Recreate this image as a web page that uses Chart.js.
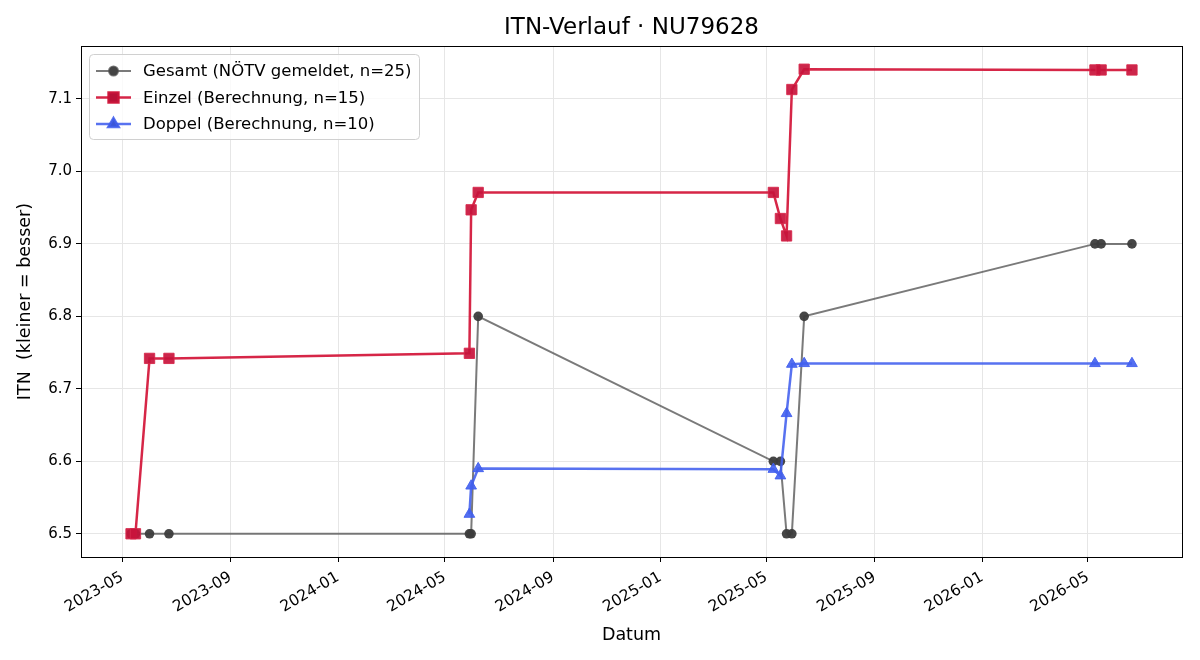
<!DOCTYPE html>
<html>
<head>
<meta charset="utf-8">
<script src="https://cdn.jsdelivr.net/npm/chart.js@4"></script>
<style>
  html, body { margin: 0; padding: 0; background: #fff; }
  #wrap { width: 1200px; height: 660px; }
</style>
</head>
<body>
<div id="wrap"><canvas id="itnChart" width="1200" height="660"></canvas></div>
<script>
// data
const gesamtDates = ['2023-05-11', '2023-05-16', '2023-06-01', '2023-06-23', '2024-05-29', '2024-05-31', '2024-06-08',
    '2025-05-09', '2025-05-17', '2025-05-24', '2025-05-30', '2025-06-13', '2026-05-09', '2026-05-16', '2026-06-20'];
const gesamtValues = [6.5, 6.5, 6.5, 6.5, 6.5, 6.5, 6.8, 6.6, 6.6, 6.5, 6.5, 6.8, 6.9, 6.9, 6.9];

const einzelDates = gesamtDates;
const einzelValues = [6.5, 6.5, 6.742, 6.742, 6.749, 6.947, 6.971, 6.971, 6.935, 6.911, 7.113, 7.141, 7.140, 7.140, 7.140];

const doppelDates = ['2024-05-29', '2024-05-31', '2024-06-08', '2025-05-09', '2025-05-17', '2025-05-24', '2025-05-30',
    '2025-06-13', '2026-05-09', '2026-06-20'];
const doppelValues = [6.527, 6.566, 6.590, 6.589, 6.580, 6.666, 6.734, 6.735, 6.735, 6.735];

const xTickLabels = ['2023-05', '2023-09', '2024-01', '2024-05', '2024-09', '2025-01', '2025-05', '2025-09', '2026-01', '2026-05'];
const yTickValues = [6.5, 6.6, 6.7, 6.8, 6.9, 7.0, 7.1];

const chartTitle = 'ITN-Verlauf · NU79628';
const FONT = '"DejaVu Sans", sans-serif';

function toTime(s) {
    const p = s.split('-').map(Number);
    return Date.UTC(p[0], p[1] - 1, p[2] || 1);
}

function toPoints(dates, values) {
    return dates.map((d, i) => ({ x: toTime(d), y: values[i] }));
}

// matplotlib style 5% margins
const allX = gesamtDates.concat(doppelDates).map(toTime);
const xMinData = Math.min(...allX), xMaxData = Math.max(...allX);
const xPad = (xMaxData - xMinData) * 0.05;
const allY = gesamtValues.concat(einzelValues, doppelValues);
const yMinData = Math.min(...allY), yMaxData = Math.max(...allY);
const yPad = (yMaxData - yMinData) * 0.05;

const legendRows = [
    { label: 'Gesamt (NÖTV gemeldet, n=25)', line: 'rgba(85,85,85,0.78)', fill: '#444444', style: 'circle' },
    { label: 'Einzel (Berechnung, n=15)', line: 'rgba(210,20,55,0.92)', fill: 'rgba(200,20,60,0.92)', style: 'rect' },
    { label: 'Doppel (Berechnung, n=10)', line: 'rgba(65,95,238,0.88)', fill: 'rgba(65,95,238,0.9)', style: 'triangle' }
];

const framePlugin = {
    id: 'frame',
    afterDraw(chart) {
        const ctx = chart.ctx;
        const a = chart.chartArea;
        ctx.save();
        ctx.strokeStyle = '#000';
        ctx.lineWidth = 1;
        ctx.strokeRect(Math.round(a.left) + 0.5, Math.round(a.top) + 0.5,
            Math.round(a.right - a.left), Math.round(a.bottom - a.top));

        // title centred over the plot area
        ctx.fillStyle = '#000';
        ctx.font = '23px ' + FONT;
        ctx.textAlign = 'center';
        ctx.textBaseline = 'middle';
        ctx.fillText(chartTitle, (a.left + a.right) / 2, 28);

        // legend box in the upper left, like matplotlib
        const bx = a.left + 8, by = a.top + 8, bw = 330, bh = 85;
        ctx.fillStyle = 'rgba(255,255,255,0.8)';
        ctx.strokeStyle = '#d0d0d0';
        ctx.beginPath();
        ctx.roundRect(bx + 0.5, by + 0.5, bw, bh, 4);
        ctx.fill();
        ctx.stroke();
        ctx.font = '16.5px ' + FONT;
        ctx.textAlign = 'left';
        legendRows.forEach((row, i) => {
            const y = by + 17 + i * 26.5;
            ctx.strokeStyle = row.line;
            ctx.lineWidth = row.style === 'circle' ? 2 : 2.5;
            ctx.beginPath();
            ctx.moveTo(bx + 7, y);
            ctx.lineTo(bx + 42, y);
            ctx.stroke();
            const r = row.style === 'circle' ? 4.5 : (row.style === 'rect' ? 7 : 6);
            Chart.helpers.drawPoint(ctx, { pointStyle: row.style, radius: r, borderWidth: 1 }, bx + 24.5, y);
            ctx.fillStyle = row.fill;
            ctx.fill();
            ctx.fillStyle = '#000';
            ctx.fillText(row.label, bx + 54, y + 1);
        });
        ctx.restore();
    }
};

const ctx = document.getElementById('itnChart').getContext('2d');

new Chart(ctx, {
    type: 'line',
    data: {
        datasets: [{
            label: legendRows[0].label,
            data: toPoints(gesamtDates, gesamtValues),
            borderColor: 'rgba(85,85,85,0.78)',
            backgroundColor: '#444444',
            pointBackgroundColor: 'rgba(60,60,60,0.95)',
            pointBorderColor: 'rgba(60,60,60,0.95)',
            borderWidth: 2,
            pointStyle: 'circle',
            pointRadius: 4.8,
            pointBorderWidth: 0,
            tension: 0,
            order: 3
        }, {
            label: legendRows[1].label,
            data: toPoints(einzelDates, einzelValues),
            borderColor: 'rgba(210,20,55,0.92)',
            backgroundColor: 'rgba(200,20,60,0.92)',
            pointBorderColor: 'rgba(215,40,75,0.9)',
            borderWidth: 2.5,
            pointStyle: 'rect',
            pointRadius: 7.3,
            pointBorderWidth: 1,
            tension: 0,
            order: 2
        }, {
            label: legendRows[2].label,
            data: toPoints(doppelDates, doppelValues),
            borderColor: 'rgba(65,95,238,0.88)',
            backgroundColor: 'rgba(65,95,238,0.9)',
            pointBorderColor: 'rgba(65,95,238,0.9)',
            borderWidth: 2.5,
            pointStyle: 'triangle',
            pointRadius: 6.2,
            pointBorderWidth: 1,
            tension: 0,
            order: 1
        }]
    },
    options: {
        responsive: false,
        animation: false,
        events: [],
        layout: { padding: { left: 0, right: 18, top: 46, bottom: 14 } },
        plugins: {
            legend: { display: false },
            tooltip: { enabled: false },
            title: { display: false }
        },
        scales: {
            x: {
                type: 'linear',
                min: xMinData - xPad,
                max: xMaxData + xPad,
                afterBuildTicks(scale) {
                    scale.ticks = xTickLabels.map(t => ({ value: toTime(t + '-01') }));
                },
                afterFit(scale) {
                    scale.height = 89;
                },
                ticks: {
                    autoSkip: false,
                    minRotation: 30,
                    maxRotation: 30,
                    padding: 6,
                    color: '#000',
                    font: { family: FONT, size: 15.5 },
                    callback: function (value) {
                        const d = new Date(value);
                        return d.getUTCFullYear() + '-' + String(d.getUTCMonth() + 1).padStart(2, '0');
                    }
                },
                grid: { color: '#e6e6e6', tickColor: '#000', tickLength: 5 },
                border: { color: '#000', width: 1 },
                title: {
                    display: true,
                    text: 'Datum',
                    color: '#000',
                    font: { family: FONT, size: 17.5 },
                    padding: { top: 2, bottom: 0 }
                }
            },
            y: {
                type: 'linear',
                min: yMinData - yPad,
                max: yMaxData + yPad,
                afterBuildTicks(scale) {
                    scale.ticks = yTickValues.map(v => ({ value: v }));
                },
                afterFit(scale) {
                    scale.width = 81;
                },
                ticks: {
                    padding: 4,
                    color: '#000',
                    font: { family: FONT, size: 15 },
                    callback: v => v.toFixed(1)
                },
                grid: { color: '#e6e6e6', tickColor: '#000', tickLength: 5 },
                border: { color: '#000', width: 1 },
                title: {
                    display: true,
                    text: 'ITN  (kleiner = besser)',
                    color: '#000',
                    font: { family: FONT, size: 17.5 },
                    padding: { top: 15, bottom: 4 }
                }
            }
        }
    },
    plugins: [framePlugin]
});
</script>
</body>
</html>
